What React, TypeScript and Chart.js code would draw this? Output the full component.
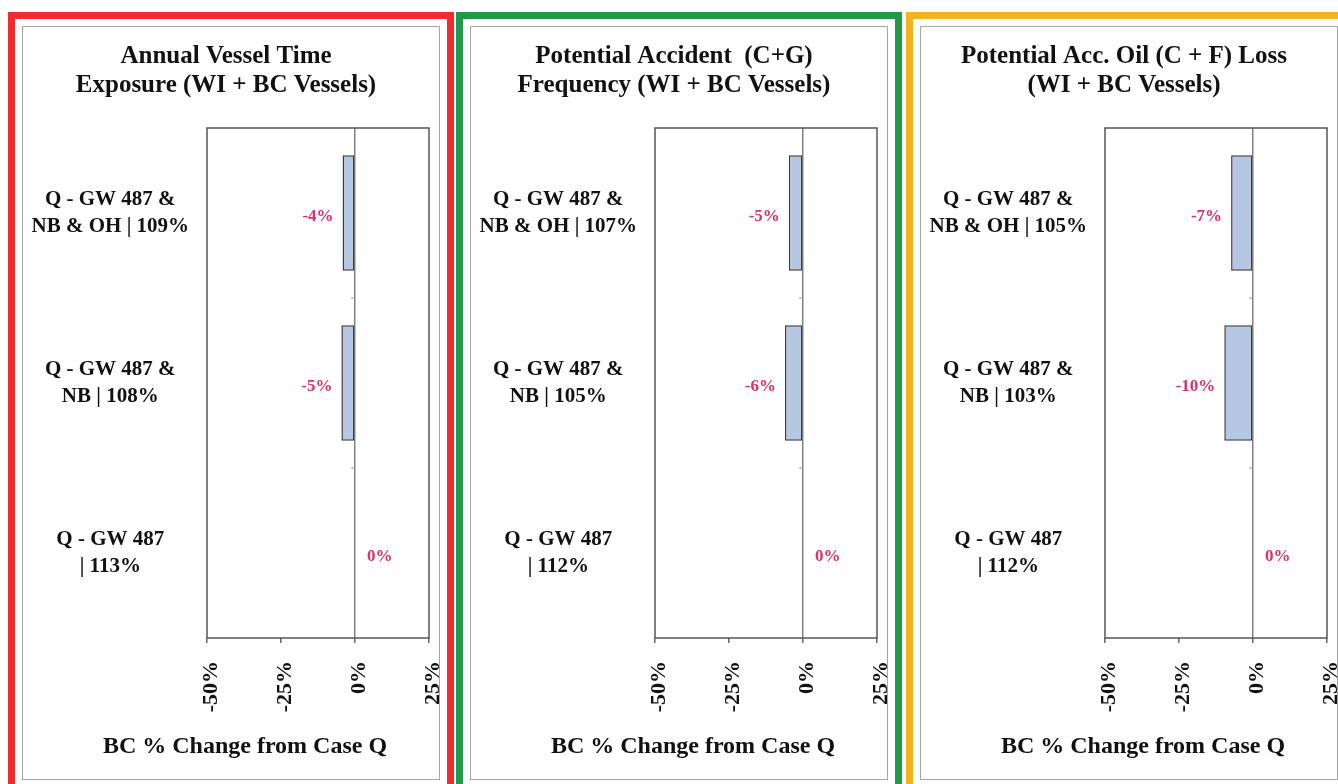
import React, { useEffect, useRef } from 'react';
import { Chart, registerables } from 'chart.js';
Chart.register(...registerables);

// ---------- data ----------
const titles1 = ['Annual Vessel Time', 'Exposure (WI + BC Vessels)'];
const titles2 = ['Potential Accident  (C+G)', 'Frequency (WI + BC Vessels)'];
const titles3 = ['Potential Acc. Oil (C + F) Loss', '(WI + BC Vessels)'];

const categories1 = [['Q - GW 487 &', 'NB & OH | 109%'], ['Q - GW 487 &', 'NB | 108%'], ['Q - GW 487', '| 113%']];
const categories2 = [['Q - GW 487 &', 'NB & OH | 107%'], ['Q - GW 487 &', 'NB | 105%'], ['Q - GW 487', '| 112%']];
const categories3 = [['Q - GW 487 &', 'NB & OH | 105%'], ['Q - GW 487 &', 'NB | 103%'], ['Q - GW 487', '| 112%']];

const values1 = [-4.2, -4.6, 0];
const values2 = [-4.8, -6.1, 0];
const values3 = [-7.4, -9.7, 0];

const xTickValues = [-50, -25, 0, 25];
const xAxisTitle = 'BC % Change from Case Q';
const panelColors = ['#ee2b2e', '#22994a', '#f5b31e'];

const FONT = "'Liberation Serif', 'Times New Roman', serif";

const framePlugin = {
  id: 'frame',
  beforeDatasetsDraw(chart: any) {
    const { ctx, chartArea: a, scales } = chart;
    ctx.save();
    ctx.strokeStyle = '#555555';
    ctx.lineWidth = 1.5;
    ctx.strokeRect(a.left, a.top, a.right - a.left, a.bottom - a.top);
    const x0 = scales.x.getPixelForValue(0);
    const ys = scales.y;
    const n = chart.data.labels.length;
    ctx.strokeStyle = '#9a9a9a';
    ctx.lineWidth = 1;
    for (let i = 0; i < n - 1; i++) {
      const yy = (ys.getPixelForValue(i) + ys.getPixelForValue(i + 1)) / 2;
      ctx.beginPath();
      ctx.moveTo(x0 - 4, yy);
      ctx.lineTo(x0, yy);
      ctx.stroke();
    }
    ctx.restore();
  },
};

const labelPlugin = {
  id: 'barLabels',
  afterDatasetsDraw(chart: any) {
    const { ctx } = chart;
    const meta = chart.getDatasetMeta(0);
    const vals = chart.data.datasets[0].data;
    ctx.save();
    ctx.font = `bold 17px ${FONT}`;
    ctx.fillStyle = '#e0306a';
    ctx.textBaseline = 'middle';
    meta.data.forEach((el: any, i: number) => {
      const v = vals[i];
      const txt = Math.round(v) + '%';
      if (v < 0) {
        ctx.textAlign = 'right';
        ctx.fillText(txt, el.x - 9, el.y + 4);
      } else {
        ctx.textAlign = 'left';
        ctx.fillText(txt, el.x + 12, el.y + 4);
      }
    });
    ctx.restore();
  },
};

const axisTitlePlugin = {
  id: 'axisTitle',
  afterDraw(chart: any) {
    const { ctx } = chart;
    const xs = chart.scales.x;
    ctx.save();
    ctx.font = `bold 24px ${FONT}`;
    ctx.fillStyle = '#111';
    ctx.textAlign = 'center';
    ctx.textBaseline = 'middle';
    ctx.fillText(xAxisTitle, chart.width / 2 + 14, xs.bottom - 32);
    ctx.restore();
  },
};

function Panel({ left, color, title, categories, values }: any) {
  const ref = useRef<HTMLCanvasElement>(null);
  useEffect(() => {
    if (!ref.current) return;
    const chart = new Chart(ref.current, {
      type: 'bar',
      data: {
        labels: categories,
        datasets: [
          {
            data: values,
            backgroundColor: '#b5c7e2',
            borderColor: '#3c3c3c',
            borderWidth: 1.5,
            borderSkipped: false,
            categoryPercentage: 0.68,
            barPercentage: 1,
          },
        ],
      },
      options: {
        animation: false,
        responsive: false,
        devicePixelRatio: 1,
        indexAxis: 'y',
        layout: { padding: { left: 0, right: 10, top: 0, bottom: 0 } },
        plugins: {
          legend: { display: false },
          tooltip: { enabled: false },
          title: {
            display: true,
            text: title,
            color: '#111',
            font: { family: FONT, size: 25, weight: 'bold', lineHeight: 1.16 },
            padding: { top: 15, bottom: 28 },
          },
        },
        scales: {
          x: {
            type: 'linear',
            min: -50,
            max: 25,
            afterBuildTicks: (s: any) => {
              s.ticks = xTickValues.map((v) => ({ value: v }));
            },
            afterFit: (s: any) => {
              s.height = 141;
              s.paddingLeft = 0;
              s.paddingRight = 0;
            },
            grid: {
              display: true,
              drawOnChartArea: true,
              drawTicks: true,
              tickLength: 5,
              color: (c: any) => (c.tick && c.tick.value === 0 ? '#808080' : 'rgba(0,0,0,0)'),
              tickColor: '#666666',
              lineWidth: 1.5,
            },
            border: { display: false },
            ticks: {
              autoSkip: false,
              minRotation: 90,
              maxRotation: 90,
              padding: 18,
              labelOffset: 4,
              color: '#111',
              font: { family: FONT, size: 22, weight: 'bold' },
              callback: (v: any) => v + '%',
            },
            title: { display: false },
          },
          y: {
            afterFit: (s: any) => {
              s.width = 184;
            },
            grid: { display: false, drawTicks: false },
            border: { display: false },
            ticks: {
              crossAlign: 'center',
              padding: 18,
              color: '#111',
              font: { family: FONT, size: 21, weight: 'bold', lineHeight: 1.25 },
            },
          },
        },
      },
      plugins: [framePlugin, labelPlugin, axisTitlePlugin],
    } as any);
    return () => chart.destroy();
  }, []);

  return (
    <>
      <div
        style={{
          position: 'absolute',
          left,
          top: 12,
          width: 446,
          height: 800,
          border: `7px solid ${color}`,
          boxSizing: 'border-box',
        }}
      />
      <div
        style={{
          position: 'absolute',
          left: left + 14,
          top: 26,
          width: 418,
          height: 754,
          border: '1px solid #a6a6a6',
          boxSizing: 'border-box',
          background: '#fff',
        }}
      >
        <canvas ref={ref} width={416} height={752} style={{ display: 'block', width: 416, height: 752 }} />
      </div>
    </>
  );
}

export default function App() {
  return (
    <div
      style={{
        position: 'absolute',
        left: 0,
        top: 0,
        width: 1338,
        height: 784,
        overflow: 'hidden',
        background: '#fff',
      }}
    >
      <Panel left={8} color={panelColors[0]} title={titles1} categories={categories1} values={values1} />
      <Panel left={456} color={panelColors[1]} title={titles2} categories={categories2} values={values2} />
      <Panel left={906} color={panelColors[2]} title={titles3} categories={categories3} values={values3} />
    </div>
  );
}
